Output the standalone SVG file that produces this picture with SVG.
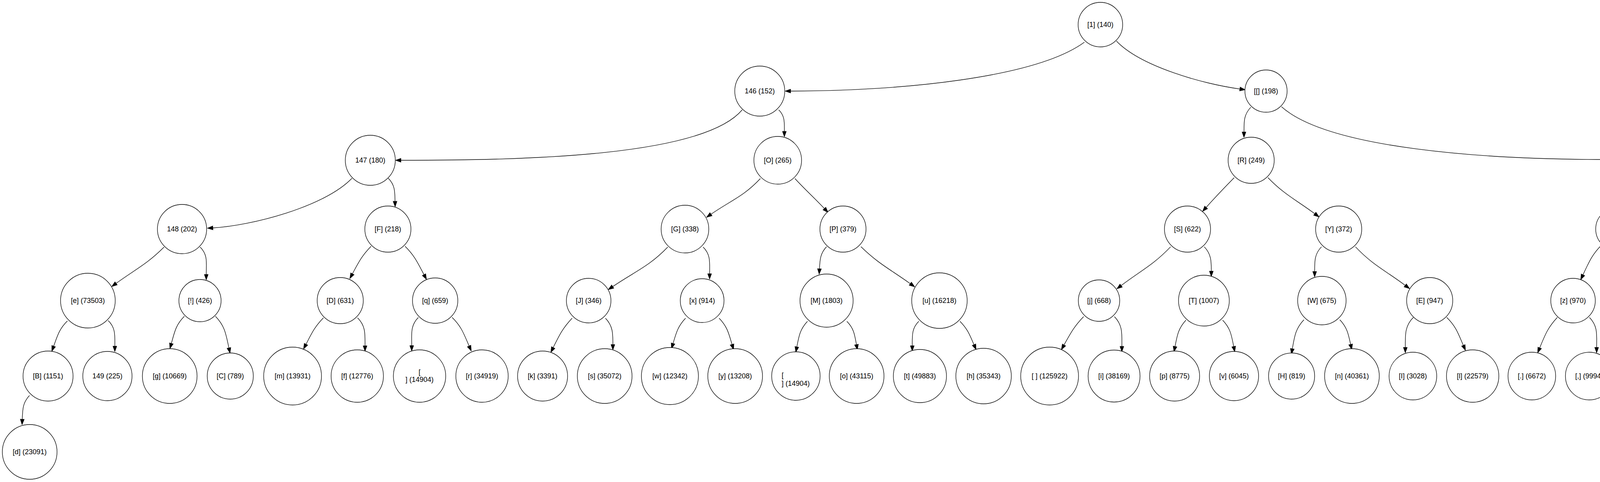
<svg xmlns="http://www.w3.org/2000/svg" width="5052" height="1233" viewBox="0 0 5052 1233">
<style>
.node circle{fill:#fff;stroke:#000;stroke-width:1.33}
.node text{font-family:"Liberation Sans",Arial,sans-serif;font-size:18px;fill:#000;text-anchor:middle}
.node text.l{text-anchor:start}
.edges path{fill:none;stroke:#000;stroke-width:1.33;marker-end:url(#arr)}
</style>
<defs>
<marker id="arr" markerUnits="userSpaceOnUse" markerWidth="16" markerHeight="12" refX="0" refY="5" orient="auto" overflow="visible">
<path d="M0,0 L14,5 L0,10 Z" fill="#000" stroke="#000" stroke-width="1"/>
</marker>
</defs>
<rect width="5052" height="1233" fill="#fff"/>
<g id="edges" class="edges">
<path d="M2776,108 C2650,200 2300,233 2024,233"/>
<path d="M2858,105 C2920,170 3080,215 3174,227.6"/>
<path d="M1900,281 C1800,400 1350,410 1026.5,410"/>
<path d="M1993.5,281 C2009.7,297 2008,313.2 2008,336"/>
<path d="M3202,274.4 C3183.9,293.4 3184.6,311.4 3184.6,337.7"/>
<path d="M3280.6,273 C3400,380 3800,408 4111,408"/>
<path d="M901,456 C830,530 640,578 545,583"/>
<path d="M994,456 C1011.4,473.4 1010.8,490.4 1011.3,515"/>
<path d="M1946.5,456.7 C1904,502.2 1871.5,512.7 1820.2,548"/>
<path d="M2035,456.7 C2064.2,488.3 2080.9,502.2 2110.4,533.5"/>
<path d="M3159.5,454.5 C3130.3,484.4 3115.6,499.3 3087.8,530.5"/>
<path d="M3246,454.5 C3288,498 3317.2,510.6 3365.8,546.7"/>
<path d="M4140,450.6 C4120.5,470.9 4122.8,490.8 4122.8,519"/>
<path d="M4218,449.8 C4290,525 4420,570 4549,578.6"/>
<path d="M420,632 C376.5,675.5 347.1,688.7 297.3,724.8"/>
<path d="M512.4,632 C532.8,652.2 528,673.3 528,702"/>
<path d="M950,630 C926.2,654.3 918.5,670.4 902.2,700.3"/>
<path d="M1037,630 C1061.7,654.7 1069.1,671.7 1085.4,702.6"/>
<path d="M1709.4,632 C1661.4,682 1625.9,694.1 1568.6,733.1"/>
<path d="M1800,632 C1820,651.8 1816.6,672.1 1816.6,700.2"/>
<path d="M2116,631 C2099.8,648.4 2099.1,663.8 2097.8,687.6"/>
<path d="M2204,631 C2249.2,675.2 2279,688.9 2330.3,725.7"/>
<path d="M2996.7,631.4 C2952.3,678 2921.4,691.7 2870.2,730.5"/>
<path d="M3083,631.4 C3100.8,650.2 3101,667.8 3101,693.7"/>
<path d="M3383,631.4 C3364.8,650.2 3365.5,668.3 3365.5,694.5"/>
<path d="M3470,631.4 C3514.3,678.2 3545.7,691.4 3597.3,730"/>
<path d="M4100,626.7 C4074.8,652.3 4067.8,670.4 4052.5,702.9"/>
<path d="M4179,626.7 C4203.4,652.1 4211.5,668.9 4227.9,700"/>
<path d="M4579.7,629 C4561.1,648.4 4561.5,666.8 4561.5,693.7"/>
<path d="M4662.7,629 C4709.4,677.2 4741.9,691 4796.1,730.7"/>
<path d="M172.5,821 C151.6,841.7 147.4,857.8 137.4,885.5"/>
<path d="M277,820 C296.4,839 294,858.5 294,885.6"/>
<path d="M472,809 C450.2,830.8 446.9,848.8 438.7,878.5"/>
<path d="M551.4,809 C576.1,834.1 578.5,855.5 586,889.9"/>
<path d="M828,813 C805.4,836.2 798.3,851.8 783.4,880.6"/>
<path d="M915.4,813 C936.5,833.9 934.5,855 934.5,884.7"/>
<path d="M1071,812 C1050.1,832.9 1054,854.4 1054,884"/>
<path d="M1157.5,812 C1181.7,835.9 1187.4,853.9 1200.9,885.1"/>
<path d="M75.5,1011.8 C58,1030.2 58,1047.1 57,1072.5"/>
<path d="M1464.6,814 C1440.1,840 1432.1,857.1 1416.2,889.1"/>
<path d="M1550,814 C1569.3,834.2 1569,853.3 1569,881.3"/>
<path d="M1755,814 C1735.2,834.9 1731.2,851 1723,878.6"/>
<path d="M1841,814 C1861.8,835.5 1865.5,852.4 1874,881.1"/>
<path d="M2067,822 C2047.8,842.8 2045.2,859.5 2039.9,887.3"/>
<path d="M2168,822 C2186,840.3 2188,856.2 2192.5,881.5"/>
<path d="M2352,822 C2333.8,840.2 2335.4,858.6 2335.4,884.4"/>
<path d="M2457.5,822 C2477.1,841.8 2482.3,856.2 2493.4,881.8"/>
<path d="M2774,810 C2749.6,835.3 2741.1,851.7 2723.9,882.4"/>
<path d="M2853,810 C2874.7,832.5 2872,854.7 2872,886"/>
<path d="M3036,819 C3016.3,840.4 3013.6,857.7 3008.1,886.3"/>
<path d="M3130,819 C3150.2,840.1 3152.6,857.7 3158.3,886.3"/>
<path d="M3338,818 C3316.1,841.3 3313.9,860.7 3308.4,892.2"/>
<path d="M3430,818 C3448.8,838 3451.7,854 3457.6,880.9"/>
<path d="M3618,812 C3595.8,834.7 3597.6,856.9 3597.6,888.7"/>
<path d="M3703.7,812 C3727.4,835.3 3733,853 3746.1,883.5"/>
<path d="M3986.7,812 C3962.1,838.3 3955.5,856.5 3941.7,889.8"/>
<path d="M4069,812 C4091.1,834.6 4087.4,857.1 4087.4,888.7"/>
<path d="M4211.6,811.5 C4188.3,834.8 4193.5,858.9 4193.5,891.8"/>
<path d="M4299,811.5 C4324.2,835.3 4327.8,855.7 4338.6,888.7"/>
<path d="M4533,816 C4511.5,837.5 4510.1,856.6 4505,886.6"/>
<path d="M4626,816 C4645.2,835.6 4647.8,852 4653.7,878.8"/>
<path d="M4817.7,811.5 C4795.7,833.6 4798,855.8 4798,887"/>
<path d="M4904,811.5 C4928.2,834.9 4933.8,852.8 4947.4,883.6"/>
</g>
<g id="node-1-140" class="node"><circle cx="2817" cy="63" r="57"/><text x="2817" y="69">[1] (140)</text></g>
<g id="node-146" class="node"><circle cx="1945" cy="233" r="64"/><text x="1945" y="239">146 (152)</text></g>
<g id="node-lbracket" class="node"><circle cx="3241" cy="233" r="54"/><text x="3241" y="239">[[] (198)</text></g>
<g id="node-147" class="node"><circle cx="948" cy="410" r="64"/><text x="948" y="416">147 (180)</text></g>
<g id="node-O" class="node"><circle cx="1991" cy="410" r="61"/><text x="1991" y="416">[O] (265)</text></g>
<g id="node-R" class="node"><circle cx="3203" cy="410" r="59"/><text x="3203" y="416">[R] (249)</text></g>
<g id="node-rbracket" class="node"><circle cx="4179" cy="410" r="54"/><text x="4179" y="416">[]] (198)</text></g>
<g id="node-148" class="node"><circle cx="466" cy="586" r="63"/><text x="466" y="592">148 (202)</text></g>
<g id="node-F" class="node"><circle cx="993" cy="586" r="59"/><text x="993" y="592">[F] (218)</text></g>
<g id="node-G" class="node"><circle cx="1753.5" cy="586" r="61"/><text x="1753.5" y="592">[G] (338)</text></g>
<g id="node-P" class="node"><circle cx="2158" cy="586" r="59"/><text x="2158" y="592">[P] (379)</text></g>
<g id="node-S" class="node"><circle cx="3040" cy="586" r="59"/><text x="3040" y="592">[S] (622)</text></g>
<g id="node-Y" class="node"><circle cx="3427" cy="586" r="59"/><text x="3427" y="592">[Y] (372)</text></g>
<g id="node-colon" class="node"><circle cx="4140" cy="586" r="55"/><text x="4140" y="592">[:] (292)</text></g>
<g id="node-question" class="node"><circle cx="4621" cy="586" r="58"/><text x="4621" y="592">[?] (479)</text></g>
<g id="node-e" class="node"><circle cx="225" cy="769" r="70"/><text x="225" y="775">[e] (73503)</text></g>
<g id="node-excl" class="node"><circle cx="512" cy="769" r="54"/><text x="512" y="775">[!] (426)</text></g>
<g id="node-D" class="node"><circle cx="871" cy="769" r="59"/><text x="871" y="775">[D] (631)</text></g>
<g id="node-q" class="node"><circle cx="1114" cy="769" r="58"/><text x="1114" y="775">[q] (659)</text></g>
<g id="node-J" class="node"><circle cx="1507" cy="769" r="57"/><text x="1507" y="775">[J] (346)</text></g>
<g id="node-x" class="node"><circle cx="1797.5" cy="769" r="56"/><text x="1797.5" y="775">[x] (914)</text></g>
<g id="node-M" class="node"><circle cx="2116" cy="769" r="68"/><text x="2116" y="775">[M] (1803)</text></g>
<g id="node-u" class="node"><circle cx="2405" cy="769" r="71"/><text x="2405" y="775">[u] (16218)</text></g>
<g id="node-j" class="node"><circle cx="2813.5" cy="769" r="53"/><text x="2813.5" y="775">[j] (668)</text></g>
<g id="node-T" class="node"><circle cx="3082" cy="769" r="65"/><text x="3082" y="775">[T] (1007)</text></g>
<g id="node-W" class="node"><circle cx="3384" cy="769" r="62"/><text x="3384" y="775">[W] (675)</text></g>
<g id="node-E" class="node"><circle cx="3660" cy="769" r="59"/><text x="3660" y="775">[E] (947)</text></g>
<g id="node-z" class="node"><circle cx="4027" cy="769" r="57"/><text x="4027" y="775">[z] (970)</text></g>
<g id="node-N" class="node"><circle cx="4254" cy="769" r="59"/><text x="4254" y="775">[N] (325)</text></g>
<g id="node-underscore" class="node"><circle cx="4580" cy="769" r="64"/><text x="4580" y="775">[_] (1096)</text></g>
<g id="node-A" class="node"><circle cx="4860" cy="769" r="58"/><text x="4860" y="775">[A] (690)</text></g>
<g id="node-B" class="node"><circle cx="123" cy="962" r="64"/><text x="123" y="968">[B] (1151)</text></g>
<g id="node-149" class="node"><circle cx="275" cy="962" r="63"/><text x="275" y="968">149 (225)</text></g>
<g id="node-g" class="node"><circle cx="434.5" cy="962" r="70"/><text x="434.5" y="968">[g] (10669)</text></g>
<g id="node-C" class="node"><circle cx="589.5" cy="962" r="59"/><text x="589.5" y="968">[C] (789)</text></g>
<g id="node-m" class="node"><circle cx="749" cy="962" r="74"/><text x="749" y="968">[m] (13931)</text></g>
<g id="node-f" class="node"><circle cx="914.6" cy="962" r="67"/><text x="914.6" y="968">[f] (12776)</text></g>
<g id="node-newline" class="node"><circle cx="1074" cy="962" r="67"/><text x="1074" y="957.5">[</text><text x="1074" y="976.5">] (14904)</text></g>
<g id="node-r" class="node"><circle cx="1234" cy="962" r="67"/><text x="1234" y="968">[r] (34919)</text></g>
<g id="node-k" class="node"><circle cx="1389" cy="962" r="64"/><text x="1389" y="968">[k] (3391)</text></g>
<g id="node-s" class="node"><circle cx="1548" cy="962" r="70"/><text x="1548" y="968">[s] (35072)</text></g>
<g id="node-w" class="node"><circle cx="1715" cy="962" r="73"/><text x="1715" y="968">[w] (12342)</text></g>
<g id="node-y" class="node"><circle cx="1882" cy="962" r="70"/><text x="1882" y="968">[y] (13208)</text></g>
<g id="node-return" class="node"><circle cx="2037.5" cy="962" r="62"/><text class="l" x="2001" y="966">[</text><text class="l" x="2001" y="987">] (14904)</text></g>
<g id="node-o" class="node"><circle cx="2193" cy="962" r="70"/><text x="2193" y="968">[o] (43115)</text></g>
<g id="node-t" class="node"><circle cx="2355" cy="962" r="68"/><text x="2355" y="968">[t] (49883)</text></g>
<g id="node-h" class="node"><circle cx="2518" cy="962" r="71"/><text x="2518" y="968">[h] (35343)</text></g>
<g id="node-space" class="node"><circle cx="2687" cy="962" r="74"/><text x="2687" y="968" xml:space="preserve">[ ] (125922)</text></g>
<g id="node-i" class="node"><circle cx="2852" cy="962" r="66.5"/><text x="2852" y="968">[i] (38169)</text></g>
<g id="node-p" class="node"><circle cx="3007" cy="962" r="64"/><text x="3007" y="968">[p] (8775)</text></g>
<g id="node-v" class="node"><circle cx="3159" cy="962" r="63"/><text x="3159" y="968">[v] (6045)</text></g>
<g id="node-H" class="node"><circle cx="3306.5" cy="962" r="59"/><text x="3306.5" y="968">[H] (819)</text></g>
<g id="node-n" class="node"><circle cx="3461" cy="962" r="70"/><text x="3461" y="968">[n] (40361)</text></g>
<g id="node-I" class="node"><circle cx="3617" cy="962" r="61"/><text x="3617" y="968">[I] (3028)</text></g>
<g id="node-l" class="node"><circle cx="3770" cy="962" r="67"/><text x="3770" y="968">[l] (22579)</text></g>
<g id="node-period" class="node"><circle cx="3921.5" cy="962" r="61"/><text x="3921.5" y="968">[.] (6672)</text></g>
<g id="node-comma" class="node"><circle cx="4068.5" cy="962" r="61"/><text x="4068.5" y="968">[,] (9994)</text></g>
<g id="node-L" class="node"><circle cx="4212" cy="962" r="57"/><text x="4212" y="968">[L] (895)</text></g>
<g id="node-semicolon" class="node"><circle cx="4356" cy="962" r="61"/><text x="4356" y="968">[;] (1704)</text></g>
<g id="node-hyphen" class="node"><circle cx="4503" cy="962" r="61"/><text x="4503" y="968">[-] (1434)</text></g>
<g id="node-a" class="node"><circle cx="4658" cy="962" r="70"/><text x="4658" y="968">[a] (44145)</text></g>
<g id="node-b" class="node"><circle cx="4818" cy="962" r="64"/><text x="4818" y="968">[b] (8613)</text></g>
<g id="node-c" class="node"><circle cx="4976.5" cy="962" r="70"/><text x="4976.5" y="968">[c] (14047)</text></g>
<g id="node-d" class="node"><circle cx="76" cy="1156" r="70"/><text x="76" y="1162">[d] (23091)</text></g>
</svg>
